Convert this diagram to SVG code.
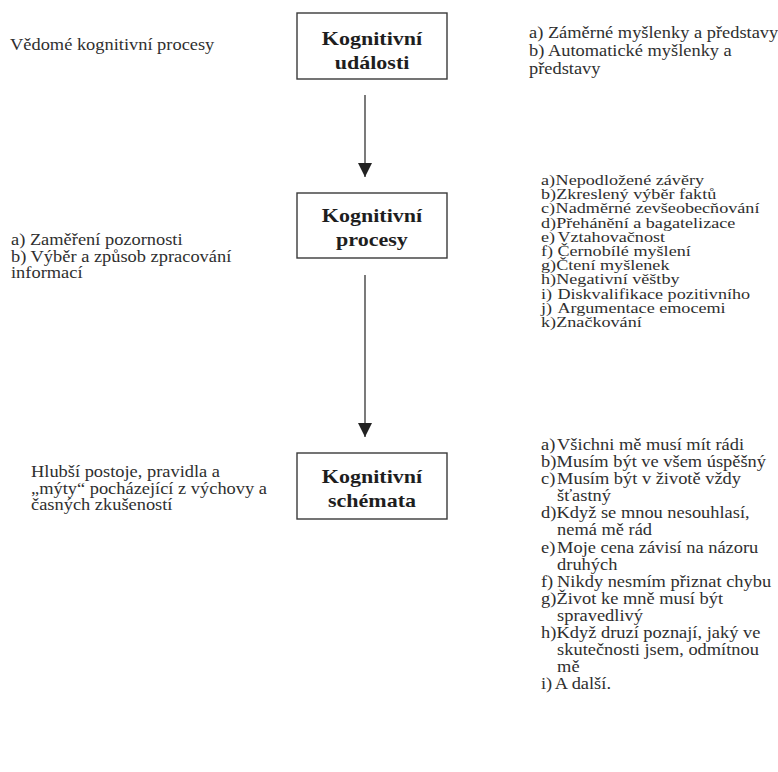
<svg xmlns="http://www.w3.org/2000/svg" width="778" height="772" viewBox="0 0 778 772">
  <style>
    .box { fill: #ffffff; stroke: #3a3a3a; stroke-width: 1.4; }
    .title { font-family: "Liberation Serif", "Times New Roman", serif; font-weight: bold; font-size: 19.5px; fill: #1e1e1e; }
    .note { font-family: "Liberation Serif", "Times New Roman", serif; font-size: 16px; fill: #2f2f2f; }
    .list { font-size: 15.5px; }
    .edge { stroke: #333333; stroke-width: 1.3; fill: none; }
  </style>
  <defs>
    <marker id="arrow" markerUnits="userSpaceOnUse" markerWidth="14" markerHeight="14" refX="14" refY="7" orient="auto">
      <path d="M0,0 L14,7 L0,14 z" fill="#222222"/>
    </marker>
  </defs>

  <rect width="778" height="772" fill="#ffffff"/>

  <!-- connectors -->
  <g id="connectors">
    <line class="edge" x1="365" y1="95" x2="365" y2="177" marker-end="url(#arrow)"/>
    <line class="edge" x1="365" y1="275" x2="365" y2="437" marker-end="url(#arrow)"/>
  </g>

  <!-- level 1: cognitive events -->
  <g id="n-udalosti">
    <rect class="box" x="297" y="13" width="150" height="66"/>
    <g transform="translate(372,0) scale(1.13,1)">
      <text class="title" text-anchor="middle"><tspan x="0" y="45">Kognitivní</tspan><tspan x="0" y="69">události</tspan></text>
    </g>
  </g>

  <!-- level 2: cognitive processes -->
  <g id="n-procesy">
    <rect class="box" x="297" y="193" width="150" height="65"/>
    <g transform="translate(372,0) scale(1.13,1)">
      <text class="title" text-anchor="middle"><tspan x="0" y="222">Kognitivní</tspan><tspan x="0" y="246">procesy</tspan></text>
    </g>
  </g>

  <!-- level 3: cognitive schemata -->
  <g id="n-schemata">
    <rect class="box" x="297" y="453" width="150" height="66"/>
    <g transform="translate(372,0) scale(1.13,1)">
      <text class="title" text-anchor="middle"><tspan x="0" y="483">Kognitivní</tspan><tspan x="0" y="507">schémata</tspan></text>
    </g>
  </g>

  <!-- left-hand descriptions -->
  <g id="left-udalosti" transform="translate(10,0) scale(1.15,1)">
    <text class="note"><tspan x="0" y="50">Vědomé kognitivní procesy</tspan></text>
  </g>
  <g id="left-procesy" transform="translate(11,0) scale(1.15,1)">
    <text class="note">
      <tspan x="0" y="245">a) Zaměření pozornosti</tspan>
      <tspan x="0" y="262">b) Výběr a způsob zpracování</tspan>
      <tspan x="0" y="278">informací</tspan>
    </text>
  </g>
  <g id="left-schemata" transform="translate(31,0) scale(1.15,1)">
    <text class="note">
      <tspan x="0" y="477">Hlubší postoje, pravidla a</tspan>
      <tspan x="0" y="494">„mýty“ pocházející z výchovy a</tspan>
      <tspan x="0" y="510">časných zkušeností</tspan>
    </text>
  </g>

  <!-- right-hand lists -->
  <g id="right-udalosti" transform="translate(529,0) scale(1.15,1)">
    <text class="note">
      <tspan x="0" y="38">a) Záměrné myšlenky a představy</tspan>
      <tspan x="0" y="56">b) Automatické myšlenky a</tspan>
      <tspan x="0" y="74">představy</tspan>
    </text>
  </g>

  <g id="right-procesy" transform="translate(541,0) scale(1.17,1)">
    <text class="note list">
      <tspan x="0" y="185">a)</tspan><tspan x="12.5" y="185">Nepodložené závěry</tspan>
      <tspan x="0" y="199.2">b)</tspan><tspan x="13" y="199.2">Zkreslený výběr faktů</tspan>
      <tspan x="0" y="213.4">c)</tspan><tspan x="12.5" y="213.4">Nadměrné zevšeobecňování</tspan>
      <tspan x="0" y="227.6">d)</tspan><tspan x="13" y="227.6">Přehánění a bagatelizace</tspan>
      <tspan x="0" y="241.8">e)</tspan><tspan x="14" y="241.8">Vztahovačnost</tspan>
      <tspan x="0" y="256">f)</tspan><tspan x="14" y="256">Černobílé myšlení</tspan>
      <tspan x="0" y="270.2">g)</tspan><tspan x="13" y="270.2">Čtení myšlenek</tspan>
      <tspan x="0" y="284.4">h)</tspan><tspan x="13" y="284.4">Negativní věštby</tspan>
      <tspan x="0" y="298.6">i)</tspan><tspan x="14" y="298.6">Diskvalifikace pozitivního</tspan>
      <tspan x="0" y="312.8">j)</tspan><tspan x="14" y="312.8">Argumentace emocemi</tspan>
      <tspan x="0" y="327">k)</tspan><tspan x="13" y="327">Značkování</tspan>
    </text>
  </g>

  <g id="right-schemata" transform="translate(541,0) scale(1.15,1)">
    <text class="note">
      <tspan x="0" y="450">a)</tspan><tspan x="14" y="450">Všichni mě musí mít rádi</tspan>
      <tspan x="0" y="467.1">b)</tspan><tspan x="13.5" y="467.1">Musím být ve všem úspěšný</tspan>
      <tspan x="0" y="484.2">c)</tspan><tspan x="14" y="484.2">Musím být v životě vždy</tspan>
      <tspan x="14" y="501.3">šťastný</tspan>
      <tspan x="0" y="518.4">d)</tspan><tspan x="13.5" y="518.4">Když se mnou nesouhlasí,</tspan>
      <tspan x="14" y="535.5">nemá mě rád</tspan>
      <tspan x="0" y="552.6">e)</tspan><tspan x="14" y="552.6">Moje cena závisí na názoru</tspan>
      <tspan x="14" y="569.7">druhých</tspan>
      <tspan x="0" y="586.8">f)</tspan><tspan x="14" y="586.8">Nikdy nesmím přiznat chybu</tspan>
      <tspan x="0" y="603.9">g)</tspan><tspan x="13.5" y="603.9">Život ke mně musí být</tspan>
      <tspan x="14" y="621">spravedlivý</tspan>
      <tspan x="0" y="638.1">h)</tspan><tspan x="13.5" y="638.1">Když druzí poznají, jaký ve</tspan>
      <tspan x="14" y="655.2">skutečnosti jsem, odmítnou</tspan>
      <tspan x="14" y="672.3">mě</tspan>
      <tspan x="0" y="689.4">i)</tspan><tspan x="12" y="689.4">A další.</tspan>
    </text>
  </g>
</svg>
